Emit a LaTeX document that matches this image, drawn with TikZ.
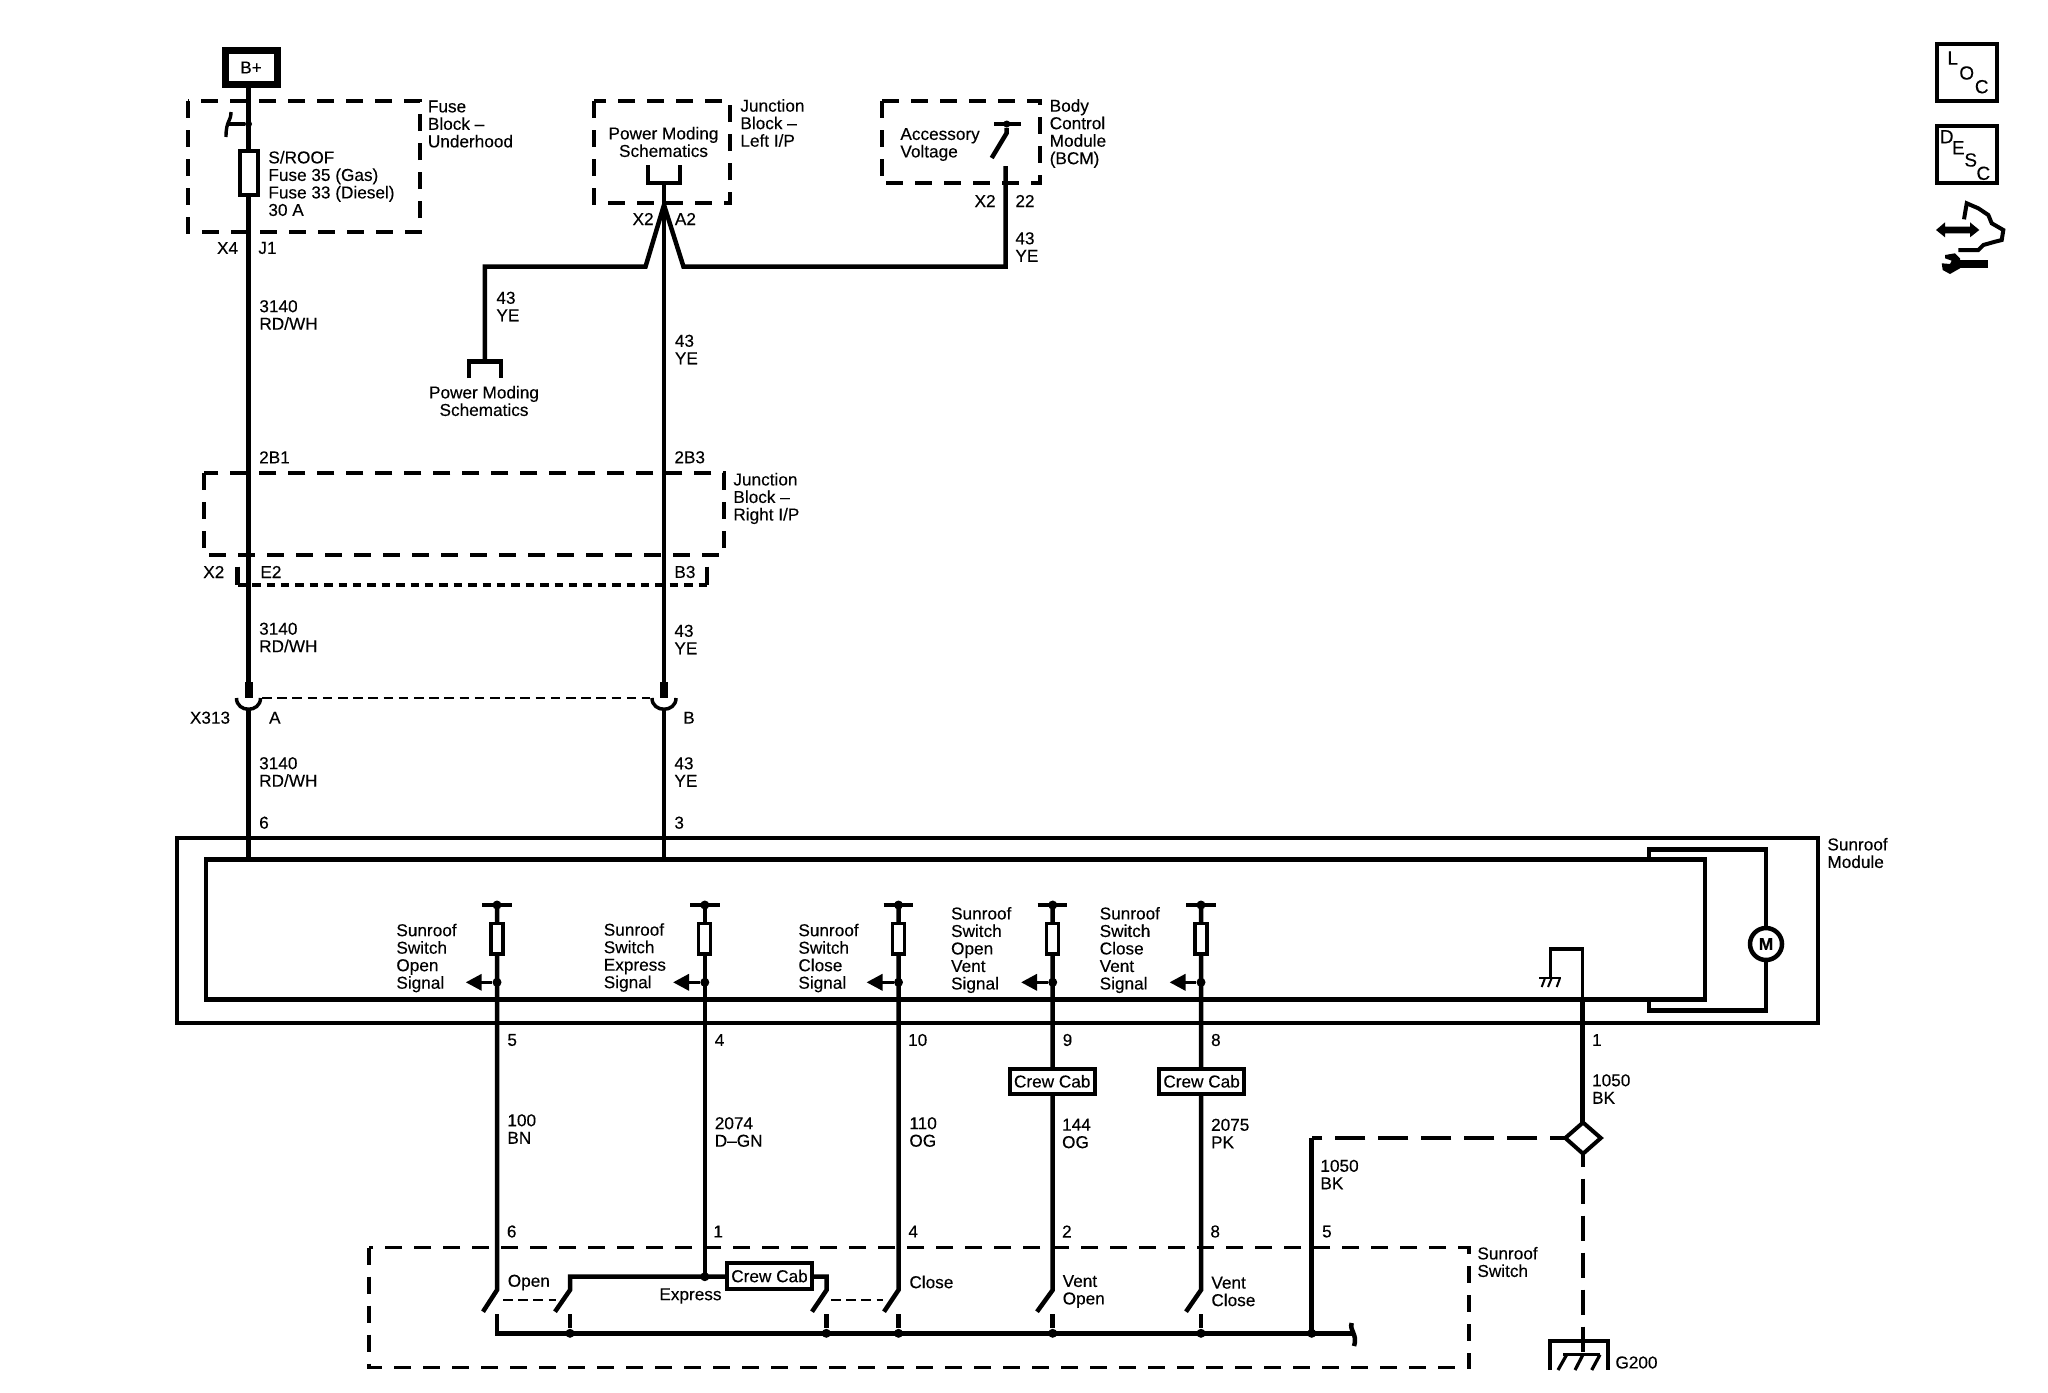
\documentclass[tikz,border=0pt]{standalone}
\usepackage{fontspec}
\setmainfont[FakeBold=0.25]{Liberation Sans}
\usetikzlibrary{arrows.meta}
\tikzset{
wire/.style={line width=2.25pt},
thin wire/.style={line width=1.7pt},
dashbox/.style={line width=1.9pt,dash pattern=on 8.5pt off 6pt},
shortdash/.style={line width=1.9pt,dash pattern=on 4.2pt off 3pt},
linkdash/.style={line width=1.25pt,dash pattern=on 4.75pt off 2.85pt},
lbl/.style={anchor=west,inner sep=0pt,align=left,font=\fontsize{8.6}{8.75}\selectfont},
ctr/.style={lbl,anchor=center,align=center},
fuse/.style={draw,fill=white,line width=2pt,inner sep=0pt,minimum width=9pt,minimum height=22pt},
sigfuse/.style={draw,fill=white,line width=1.6pt,inner sep=0pt,minimum width=6pt,minimum height=15.3pt},
crew/.style={draw,fill=white,line width=2pt,inner sep=0pt,minimum width=42.5pt,minimum height=12.75pt,font=\fontsize{8.6}{8.75}\selectfont},
dot/.style={circle,fill,inner sep=0pt,minimum size=4.5pt},
iconbox/.style={line width=2pt},
iconchar/.style={inner sep=0pt,font=\fontsize{9.5}{9.5}\selectfont},
sigarrow/.style={line width=1.75pt,-{Triangle[length=8pt,width=8pt]}}
}
\begin{document}
\begin{tikzpicture}[x=0.5pt,y=-0.5pt]
\useasboundingbox (0,0) rectangle (2048,1392);
\coordinate (LT) at (248.5,84);
\coordinate (LM) at (248.5,698);
\coordinate (LC) at (248.5,709);
\coordinate (LB) at (248.5,859);
\coordinate (RT) at (664,183);
\coordinate (RA) at (664,205);
\coordinate (RM) at (664,698);
\coordinate (RC) at (664,709);
\coordinate (RB) at (664,859);
\draw [wire] (LT) -- (LM);
\draw [wire] (LC) -- (LB);
\draw [wire] (RT) -- (RM);
\draw [wire] (RC) -- (RB);
\node [draw,line width=3.5pt,inner sep=0pt,minimum width=26pt,minimum height=16.75pt,font=\fontsize{8.6}{8.75}\selectfont] (BP) at (251,67.5) {B+};
\draw [dashbox] (188,101) rectangle (420,232);
\node [fuse] (F0) at (249,173) {};
\node [dot,minimum size=3.5pt] (D0) at (248.5,124) {};
\coordinate (K0) at (227,124);
\draw [thin wire] (D0) -- (K0);
\draw [thin wire] (231,112) .. controls (231,122) and (226,120) .. (226,137);
\node [lbl] (T0) at (268,183.5) {S/ROOF\\Fuse 35 (Gas)\\Fuse 33 (Diesel)\\30 A};
\node [lbl] (T1) at (427.5,124) {Fuse\\Block --\\Underhood};
\node [lbl,anchor=east] (T2) at (238.5,248) {X4};
\node [lbl] (T3) at (258,248) {J1};
\node [lbl] (T4) at (259,315) {3140\\RD/WH};
\draw [dashbox] (594,101) rectangle (730,203);
\node [ctr] (T5) at (663.5,142) {Power Moding\\Schematics};
\coordinate (Q1) at (648,165);
\coordinate (Q2) at (680,165);
\draw [wire] (Q1) -- (648,183) -- (680,183) -- (Q2);
\node [lbl] (T6) at (740,123) {Junction\\Block --\\Left I/P};
\node [lbl,anchor=east] (T7) at (654,219) {X2};
\node [lbl] (T8) at (674.5,219) {A2};
\coordinate (G1) at (484.8,266.7);
\coordinate (G2) at (484.8,361.7);
\coordinate (G3) at (1005.7,266.7);
\coordinate (G4) at (1005.7,166);
\draw [wire] (RA) -- (645.5,266.7) -- (G1) -- (G2);
\draw [wire] (RA) -- (683.5,266.7) -- (G3) -- (G4);
\draw [wire] (469,378) -- (469,361.7) -- (501,361.7) -- (501,378);
\node [lbl] (T9) at (496,306.5) {43\\YE};
\node [lbl] (T10) at (674.5,349.5) {43\\YE};
\node [ctr] (T11) at (484,401) {Power Moding\\Schematics};
\draw [dashbox] (881.7,101) rectangle (1040,183.3);
\node [lbl] (T12) at (900,144.5) {Accessory\\Voltage};
\node [dot,minimum size=3.5pt] (D1) at (1006.7,124) {};
\draw [thin wire] (994,124) -- (1020.7,124);
\draw [wire] (D1) -- (1006.7,133) -- (991.7,158);
\node [lbl] (T13) at (1049.3,133.5) {Body\\Control\\Module\\(BCM)};
\node [lbl,anchor=east] (T14) at (996,201) {X2};
\node [lbl] (T15) at (1015,201) {22};
\node [lbl] (T16) at (1015,247) {43\\YE};
\draw [dashbox] (203.7,473.3) rectangle (723.8,555);
\node [lbl] (T17) at (258.8,457.3) {2B1};
\node [lbl] (T18) at (674,457.3) {2B3};
\node [lbl] (T19) at (733,498.5) {Junction\\Block --\\Right I/P};
\node [lbl,anchor=east] (T20) at (224.7,572) {X2};
\node [lbl] (T21) at (260,572) {E2};
\node [lbl] (T22) at (674,572) {B3};
\draw [wire] (237.7,566.7) -- (237.7,585);
\draw [shortdash] (237.7,585) -- (707,585);
\draw [wire] (707,566.7) -- (707,585);
\node [lbl] (T23) at (258.8,637.5) {3140\\RD/WH};
\node [lbl] (T24) at (674,639.5) {43\\YE};
\draw [line width=4pt] (248.5,682) -- (LM);
\draw [line width=4pt] (664,682) -- (RM);
\draw [line width=1.75pt] (236.5,698) .. controls (236.5,713) and (260.5,713) .. (260.5,698);
\draw [line width=1.75pt] (652,698) .. controls (652,713) and (676,713) .. (676,698);
\draw [linkdash] (262,698) -- (650,698);
\node [lbl,anchor=east] (T25) at (230.5,717.7) {X313};
\node [lbl] (T26) at (268.7,717.7) {A};
\node [lbl] (T27) at (682.8,717.7) {B};
\node [lbl] (T28) at (258.8,772) {3140\\RD/WH};
\node [lbl] (T29) at (674,772) {43\\YE};
\node [lbl] (T30) at (258.8,822.7) {6};
\node [lbl] (T31) at (674,822.7) {3};
\draw [wire] (177,838) rectangle (1818,1023);
\draw [wire] (206,859.5) rectangle (1705,999.5);
\node [lbl] (T32) at (1827,853) {Sunroof\\Module};
\node [draw,fill=white,circle,line width=2.25pt,inner sep=0pt,minimum size=16pt,font=\fontsize{8.6}{8.75}\selectfont\bfseries] (MO) at (1766,944) {M};
\draw [wire] (1649,859.5) -- (1649,849.3) -- (1766,849.3) -- (MO);
\draw [wire] (MO) -- (1766,1010.7) -- (1649,1010.7) -- (1649,999.5);
\coordinate (S1) at (497,905);
\coordinate (S2) at (704.8,905);
\coordinate (S3) at (898.5,905);
\coordinate (S4) at (1052.7,905);
\coordinate (S5) at (1201,905);
\draw [wire] (S1) -- (497,1290) -- (483,1311.7);
\draw [wire] (S2) -- (704.8,1276.7);
\draw [wire] (S3) -- (898.5,1290) -- (884,1311.7);
\draw [wire] (S4) -- (1052.7,1290) -- (1037,1311.7);
\draw [wire] (S5) -- (1201,1290) -- (1186,1311.7);
\draw [thin wire] (482,905) -- (511.6,905);
\draw [thin wire] (690,905) -- (719.6,905);
\draw [thin wire] (883.7,905) -- (913.3,905);
\draw [thin wire] (1037.5,905) -- (1067,905);
\draw [thin wire] (1186.2,905) -- (1215.8,905);
\node [dot] (P1) at (S1) {};
\node [dot] (P2) at (S2) {};
\node [dot] (P3) at (S3) {};
\node [dot] (P4) at (S4) {};
\node [dot] (P5) at (S5) {};
\node [sigfuse] (F1) at (497,938.7) {};
\node [sigfuse] (F2) at (704.8,938.7) {};
\node [sigfuse] (F3) at (898.5,938.7) {};
\node [sigfuse] (F4) at (1052.7,938.7) {};
\node [sigfuse] (F5) at (1201,938.7) {};
\node [dot] (O1) at (497,982.3) {};
\node [dot] (O2) at (704.8,982.3) {};
\node [dot] (O3) at (898.5,982.3) {};
\node [dot] (O4) at (1052.7,982.3) {};
\node [dot] (O5) at (1201,982.3) {};
\coordinate (A1) at (465.7,982.3);
\coordinate (A2) at (673,982.3);
\coordinate (A3) at (866.5,982.3);
\coordinate (A4) at (1021,982.3);
\coordinate (A5) at (1169.5,982.3);
\draw [sigarrow] (O1) -- (A1);
\draw [sigarrow] (O2) -- (A2);
\draw [sigarrow] (O3) -- (A3);
\draw [sigarrow] (O4) -- (A4);
\draw [sigarrow] (O5) -- (A5);
\node [lbl] (N1) at (396,958) {Sunroof\\Switch\\Open\\Signal};
\node [lbl] (N2) at (603.4,957.5) {Sunroof\\Switch\\Express\\Signal};
\node [lbl] (N3) at (798,958) {Sunroof\\Switch\\Close\\Signal};
\node [lbl] (N4) at (950.7,950) {Sunroof\\Switch\\Open\\Vent\\Signal};
\node [lbl] (N5) at (1099.3,950) {Sunroof\\Switch\\Close\\Vent\\Signal};
\node [lbl] (N6) at (507,1040) {5};
\node [lbl] (N7) at (714.4,1040) {4};
\node [lbl] (N8) at (907.7,1040) {10};
\node [lbl] (N9) at (1062.3,1040) {9};
\node [lbl] (N10) at (1210.7,1040) {8};
\node [lbl] (N11) at (1591.7,1040) {1};
\node [crew] (C1) at (1052.2,1081.3) {Crew Cab};
\node [crew] (C2) at (1201.6,1081.3) {Crew Cab};
\node [lbl] (N12) at (507,1129) {100\\BN};
\node [lbl] (N13) at (714.4,1132) {2074\\D--GN};
\node [lbl] (N14) at (909,1132) {110\\OG};
\node [lbl] (N15) at (1061.7,1133.5) {144\\OG};
\node [lbl] (N16) at (1210.7,1133.5) {2075\\PK};
\draw [thin wire] (1582.7,1000) -- (1582.7,949) -- (1550.7,949) -- (1550.7,978);
\draw [wire] (1582.7,1000) -- (1582.7,1122.5);
\draw [line width=1.25pt] (1539,978) -- (1561,978);
\draw [line width=1pt] (1545,978) -- (1541.7,987);
\draw [line width=1pt] (1551.7,978) -- (1548,987);
\draw [line width=1pt] (1560,978) -- (1556.7,987);
\node [lbl] (N17) at (1591.7,1089) {1050\\BK};
\coordinate (V1) at (1583,1122.5);
\coordinate (V2) at (1600.8,1138);
\coordinate (V3) at (1583,1153.7);
\coordinate (V4) at (1565.3,1138);
\draw [line width=2pt] (V1) -- (V2) -- (V3) -- (V4) -- cycle;
\coordinate (H1) at (1311.7,1138);
\coordinate (H2) at (1583,1355);
\draw [line width=1.9pt,dash pattern=on 15pt off 6.5pt,dash phase=7.5pt] (V4) -- (H1);
\draw [wire,dash pattern=on 12.5pt off 6pt,dash phase=6pt] (V3) -- (H2);
\draw [wire] (H1) -- (1311.7,1333.3);
\draw [wire] (1550,1370) -- (1550,1341) -- (1608,1341) -- (1608,1370);
\draw [line width=1.6pt] (1563,1354.6) -- (1600,1354.6);
\draw [line width=1.6pt] (1566.7,1354.6) -- (1558,1370);
\draw [line width=1.6pt] (1583,1354.6) -- (1575,1370);
\draw [line width=1.6pt] (1600,1354.6) -- (1591.7,1370);
\node [lbl] (N18) at (1615,1362.5) {G200};
\node [lbl] (N19) at (1320,1174.5) {1050\\BK};
\draw [dashbox] (369,1247.5) rectangle (1469,1367.5);
\node [lbl] (N20) at (1477,1262) {Sunroof\\Switch};
\node [lbl] (N21) at (506.5,1231.5) {6};
\node [lbl] (N22) at (713,1231.5) {1};
\node [lbl] (N23) at (908,1231.5) {4};
\node [lbl] (N24) at (1061.7,1231.5) {2};
\node [lbl] (N25) at (1210,1231.5) {8};
\node [lbl] (N26) at (1321.7,1231.5) {5};
\node [lbl] (N27) at (507.4,1282.5) {Open};
\node [lbl] (N28) at (659,1296) {Express};
\node [lbl] (N29) at (909,1282) {Close};
\node [lbl] (N30) at (1062.3,1291.5) {Vent\\Open};
\node [lbl] (N31) at (1211,1291.5) {Vent\\Close};
\coordinate (B0) at (497,1333.3);
\coordinate (B1) at (1351.7,1333.3);
\draw [wire] (497,1314) -- (B0) -- (B1);
\draw [wire] (1351.7,1323) .. controls (1349,1330) and (1358,1335) .. (1354,1346);
\node [dot] (J1) at (570,1333.3) {};
\node [dot] (J2) at (826.3,1333.3) {};
\node [dot] (J3) at (898.5,1333.3) {};
\node [dot] (J4) at (1052.7,1333.3) {};
\node [dot] (J5) at (1201,1333.3) {};
\node [dot] (J6) at (1311.7,1333.3) {};
\draw [wire] (570,1314) -- (J1);
\draw [wire] (826.3,1314) -- (J2);
\draw [wire] (898.5,1314) -- (J3);
\draw [wire] (1052.7,1314) -- (J4);
\draw [wire] (1201,1314) -- (J5);
\draw [wire] (555,1311.7) -- (570,1290) -- (570,1276.7) -- (826.6,1276.7) -- (826.6,1290) -- (812,1311.7);
\node [dot] (J7) at (704.8,1276.7) {};
\node [crew] (C3) at (769.5,1276) {Crew Cab};
\draw [linkdash] (503,1300) -- (556,1300);
\draw [linkdash] (831,1300) -- (883,1300);
\draw [iconbox] (1937,44) rectangle (1997,101);
\draw [iconbox] (1937,126) rectangle (1997,183);
\node [iconchar] (I1) at (1952.7,58) {L};
\node [iconchar] (I2) at (1966.7,73) {O};
\node [iconchar] (I3) at (1981.7,86.7) {C};
\node [iconchar] (I4) at (1946.7,136.7) {D};
\node [iconchar] (I5) at (1958.3,147.7) {E};
\node [iconchar] (I6) at (1970.7,160) {S};
\node [iconchar] (I7) at (1983.3,173.3) {C};
\fill (1936,230) -- (1945,222.3) -- (1945,226.7) -- (1970,226.7) -- (1970,222.3) -- (1979.3,230) -- (1970,237.3) -- (1970,233.3) -- (1945,233.3) -- (1945,237.3) -- cycle;
\draw [line width=2pt] (1964,219.3) -- (1966.7,203.3) -- (1978.3,208.3) -- (1988.3,215) -- (1991.7,223.3) -- (2003.3,230) -- (2001.7,240) -- (1995,241.7) -- (1983.3,245) -- (1978.3,250) -- (1958.3,250);
\fill (1945,255) -- (1955,253.3) -- (1960,258.3) -- (1960,268.3) -- (1950,274) -- (1942.7,270) -- (1941.7,263.3) -- (1950,264) -- (1951.7,260.7) -- (1945,258.3) -- cycle;
\draw [line width=3.6pt] (1958,264) -- (1988,264);
\end{tikzpicture}
\end{document}
